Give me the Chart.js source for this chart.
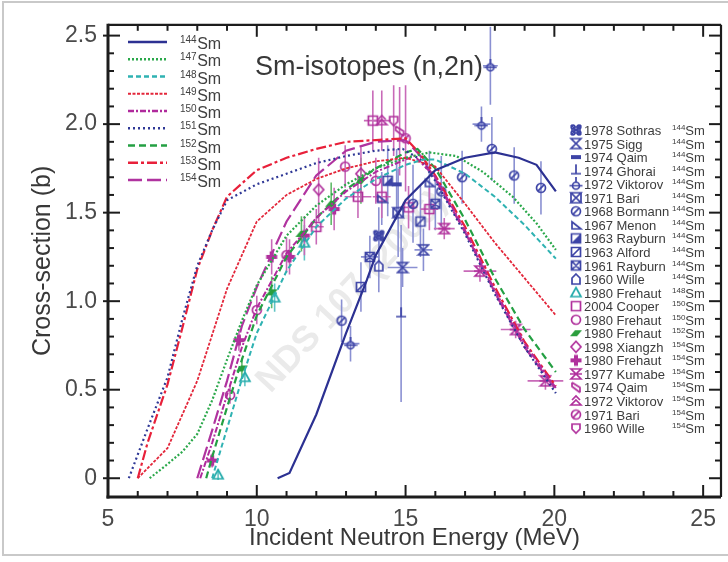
<!DOCTYPE html>
<html><head><meta charset="utf-8">
<script src="https://cdn.jsdelivr.net/npm/chart.js@4"></script>
<style>html,body{margin:0;padding:0;background:#fff}#wrap{width:728px;height:562px;position:relative}</style>
</head><body><div id="wrap"><canvas id="c" width="728" height="562"></canvas></div>
<script>
// ================= DATA =================
const xTickValues = [5, 10, 15, 20, 25];
const yTickValues = [0, 0.5, 1, 1.5, 2, 2.5];
const yTickLabels = ['0', '0.5', '1.0', '1.5', '2.0', '2.5'];
const chartTitle = 'Sm-isotopes (n,2n)';
const xTitle = 'Incident Neutron Energy (MeV)';
const yTitle = 'Cross-section (b)';
const watermarkText = 'NDS 107 (2006)';

// evaluated curves: energy (MeV) and cross-section (b)
const sm144E  = [10.7, 11.1, 12.0, 13.0, 13.7, 14.0, 15.0, 16.0, 17.0, 18.0, 18.8, 19.4, 20.05];
const sm144XS = [0.0, 0.03, 0.36, 0.82, 1.12, 1.26, 1.57, 1.74, 1.81, 1.84, 1.81, 1.77, 1.62];
const sm147E  = [6.4, 7.0, 7.5, 8.0, 8.5, 9.0, 9.5, 10.0, 11.0, 12.0, 13.0, 14.0, 15.0, 15.8, 16.7, 17.6, 18.6, 19.4, 20.05];
const sm147XS = [0.0, 0.08, 0.15, 0.25, 0.44, 0.67, 0.89, 1.09, 1.37, 1.54, 1.66, 1.75, 1.81, 1.84, 1.82, 1.73, 1.59, 1.44, 1.29];
const sm148E  = [8.5, 9.0, 9.5, 10.0, 11.0, 12.0, 13.0, 14.0, 15.0, 15.6, 16.0, 17.0, 18.0, 19.0, 20.05];
const sm148XS = [0.0, 0.28, 0.56, 0.82, 1.17, 1.42, 1.58, 1.69, 1.77, 1.8, 1.8, 1.72, 1.59, 1.43, 1.24];
const sm149E  = [6.0, 7.0, 8.0, 9.0, 10.0, 11.0, 12.0, 13.0, 14.0, 15.0, 16.0, 17.0, 18.0, 19.0, 20.05];
const sm149XS = [0.0, 0.17, 0.55, 1.07, 1.45, 1.6, 1.69, 1.75, 1.79, 1.81, 1.76, 1.55, 1.33, 1.13, 0.92];
const sm150E  = [8.1, 8.5, 9.0, 9.5, 10.0, 11.0, 12.0, 13.0, 14.0, 15.0, 15.3, 16.0, 17.0, 18.0, 19.0, 20.05];
const sm150XS = [0.0, 0.2, 0.47, 0.74, 0.96, 1.27, 1.47, 1.62, 1.73, 1.8, 1.82, 1.7, 1.4, 1.06, 0.76, 0.51];
const sm151E  = [5.7, 6.33, 7.0, 7.5, 8.0, 8.5, 9.0, 10.0, 11.0, 12.0, 13.0, 14.0, 14.9, 15.5, 16.0, 17.0, 18.0, 19.0, 20.05];
const sm151XS = [0.0, 0.28, 0.57, 0.9, 1.2, 1.4, 1.57, 1.66, 1.72, 1.78, 1.82, 1.85, 1.86, 1.8, 1.68, 1.38, 1.04, 0.74, 0.48];
const sm152E  = [8.3, 8.5, 9.0, 9.5, 10.0, 11.0, 12.0, 13.0, 14.0, 15.0, 15.4, 16.0, 17.0, 18.0, 19.0, 20.05];
const sm152XS = [0.0, 0.12, 0.4, 0.67, 0.92, 1.25, 1.47, 1.63, 1.75, 1.84, 1.86, 1.75, 1.46, 1.13, 0.84, 0.6];
const sm153E  = [6.0, 6.33, 7.0, 7.5, 8.0, 8.5, 9.0, 10.0, 11.0, 12.0, 13.0, 14.0, 15.0, 15.5, 16.0, 17.0, 18.0, 19.0, 20.05];
const sm153XS = [0.0, 0.2, 0.53, 0.85, 1.18, 1.4, 1.59, 1.74, 1.81, 1.86, 1.9, 1.91, 1.92, 1.83, 1.71, 1.42, 1.08, 0.77, 0.52];
const sm154E  = [8.0, 8.5, 9.0, 9.5, 10.0, 11.0, 12.0, 13.0, 14.0, 15.0, 15.5, 16.0, 17.0, 18.0, 19.0, 20.05];
const sm154XS = [0.0, 0.27, 0.55, 0.86, 1.08, 1.45, 1.71, 1.85, 1.9, 1.91, 1.82, 1.69, 1.39, 1.05, 0.74, 0.5];

// experiments: [energy, cross-section, d(cross-section), d(energy)]
const sothras1978_144 = [[14.1, 1.37, 0.16, 0]];
const sigg1975_144    = [[14.9, 1.19, 0.11, 0.5], [15.6, 1.29, 0.12, 0.3]];
const qaim1974_144    = [[14.7, 1.66, 0.2, 0]];
const ghorai1974_144  = [[14.85, 0.93, 0.5, 0]];
const viktorov1972_144 = [[13.15, 0.76, 0.1, 0.3], [17.55, 2.0, 0.1, 0.3], [17.85, 2.33, 0.22, 0.25]];
const bari1971_144    = [[14.75, 1.5, 0.25, 0]];
const bormann1968_144 = [[12.85, 0.89, 0.12, 0], [15.25, 1.55, 0.22, 0], [16.2, 1.62, 0.2, 0], [16.9, 1.7, 0.15, 0], [17.9, 1.86, 0.18, 0], [18.65, 1.71, 0.16, 0], [19.55, 1.64, 0.15, 0]];
const menon1967_144   = [[14.2, 1.58, 0.15, 0], [15.8, 1.67, 0.18, 0]];
const rayburn1963_144 = [[14.4, 1.68, 0.2, 0]];
const alford1963_144  = [[13.5, 1.08, 0.14, 0], [15.5, 1.45, 0.2, 0]];
const rayburn1961_144 = [[13.8, 1.25, 0.12, 0.3], [16.0, 1.55, 0.15, 0]];
const wille1960_144   = [[14.1, 1.2, 0.15, 0]];
const frehaut1980_148 = [[8.7, 0.02, 0.03, 0], [9.6, 0.57, 0.05, 0], [10.6, 1.02, 0.08, 0], [11.6, 1.33, 0.1, 0]];
const cooper2004_150  = [[12.0, 1.42, 0.1, 0.25], [13.4, 1.59, 0.12, 0.45], [14.2, 1.59, 0.12, 0.3], [15.1, 1.53, 0.12, 0.3], [15.8, 1.52, 0.12, 0.3], [13.9, 2.02, 0.17, 0.3]];
const frehaut1980_150 = [[9.1, 0.47, 0.05, 0], [10.0, 0.95, 0.08, 0], [11.0, 1.26, 0.1, 0], [12.97, 1.76, 0.12, 0], [14.0, 1.68, 0.13, 0]];
const frehaut1980_152 = [[9.5, 0.62, 0.06, 0], [10.5, 1.05, 0.09, 0], [11.5, 1.38, 0.1, 0], [12.5, 1.55, 0.12, 0], [13.5, 1.68, 0.13, 0]];
const xiangzh1998_154 = [[12.08, 1.63, 0.18, 0], [13.5, 1.72, 0.15, 0]];
const frehaut1980_154 = [[8.5, 0.1, 0.04, 0], [9.4, 0.78, 0.06, 0], [10.5, 1.25, 0.1, 0.15], [11.1, 1.25, 0.1, 0], [11.6, 1.37, 0.11, 0], [12.6, 1.52, 0.12, 0]];
const kumabe1977_154  = [[16.3, 1.41, 0.06, 0.35], [17.5, 1.17, 0.06, 0.55], [18.7, 0.84, 0.05, 0.5], [19.7, 0.55, 0.05, 0.6]];
const qaim1974_154    = [[14.8, 1.96, 0.25, 0]];
const viktorov1972_154 = [[14.2, 2.02, 0.17, 0.3]];
const bari1971_154    = [[15.0, 1.92, 0.3, 0]];
const wille1960_154   = [[14.6, 2.02, 0.2, 0]];

// ================= STYLES =================
const C144 = '#2c3192', C147 = '#2aa84a', C148 = '#2fb2b2', C149 = '#e3263a', C150 = '#b02a9c',
      C151 = '#2f3896', C152 = '#24a043', C153 = '#e8203a', C154 = '#b0339f';
const curveDefs = [
  ['144', sm144E, sm144XS, C144, [], 2.2],
  ['147', sm147E, sm147XS, C147, [2, 2], 2.2],
  ['148', sm148E, sm148XS, C148, [5, 3], 2],
  ['149', sm149E, sm149XS, C149, [3, 1.5], 1.8],
  ['150', sm150E, sm150XS, C150, [6, 2, 2, 2], 2],
  ['151', sm151E, sm151XS, C151, [2, 3], 2.2],
  ['152', sm152E, sm152XS, C152, [7, 4], 2.2],
  ['153', sm153E, sm153XS, C153, [10, 3, 3, 3], 2.2],
  ['154', sm154E, sm154XS, C154, [14, 5], 2.2]
];

const S144 = '#3d44a6', E144 = '#8a90d2';
const SMAG = '#b0309c', EMAG = '#c86ab8';
const expDefs = [
  ['1978 Sothras', '144', sothras1978_144, 'sothras', S144, E144],
  ['1975 Sigg', '144', sigg1975_144, 'hourglass', S144, E144],
  ['1974 Qaim', '144', qaim1974_144, 'bar', S144, E144],
  ['1974 Ghorai', '144', ghorai1974_144, 'tee', S144, E144],
  ['1972 Viktorov', '144', viktorov1972_144, 'circleBar', S144, E144],
  ['1971 Bari', '144', bari1971_144, 'xbox', S144, E144],
  ['1968 Bormann', '144', bormann1968_144, 'circleSlash', S144, E144],
  ['1967 Menon', '144', menon1967_144, 'rtri', S144, E144],
  ['1963 Rayburn', '144', rayburn1963_144, 'halfSquare', S144, E144],
  ['1963 Alford', '144', alford1963_144, 'squareDiag', S144, E144],
  ['1961 Rayburn', '144', rayburn1961_144, 'squareX', S144, E144],
  ['1960 Wille', '144', wille1960_144, 'house', S144, E144],
  ['1980 Frehaut', '148', frehaut1980_148, 'triangle', '#22aaaa', '#60c4c4'],
  ['2004 Cooper', '150', cooper2004_150, 'square', SMAG, EMAG],
  ['1980 Frehaut', '150', frehaut1980_150, 'circle', SMAG, EMAG],
  ['1980 Frehaut', '152', frehaut1980_152, 'para', '#2a9e3c', '#62ba6a'],
  ['1998 Xiangzh', '154', xiangzh1998_154, 'diamond', SMAG, EMAG],
  ['1980 Frehaut', '154', frehaut1980_154, 'plus', SMAG, EMAG],
  ['1977 Kumabe', '154', kumabe1977_154, 'bowtie', SMAG, EMAG],
  ['1974 Qaim', '154', qaim1974_154, 'slashes', SMAG, EMAG],
  ['1972 Viktorov', '154', viktorov1972_154, 'triHat', SMAG, EMAG],
  ['1971 Bari', '154', bari1971_154, 'circleSlash', SMAG, EMAG],
  ['1960 Wille', '154', wille1960_154, 'shield', SMAG, EMAG]
];

const FONT = '"Liberation Sans", Arial, sans-serif';

function makeSymbol(shape, color) {
  const S = 14, cv = document.createElement('canvas');
  cv.width = S; cv.height = S;
  const g = cv.getContext('2d');
  g.strokeStyle = color; g.fillStyle = color; g.lineWidth = 1.7;
  const c = S / 2, r = 5;
  g.beginPath();
  switch (shape) {
    case 'circle': g.arc(c, c, r - 0.5, 0, 2 * Math.PI); g.stroke(); break;
    case 'circleSlash': g.arc(c, c, r - 0.5, 0, 2 * Math.PI); g.moveTo(c - 3.3, c + 3.3); g.lineTo(c + 3.3, c - 3.3); g.stroke(); break;
    case 'circleBar': g.arc(c, c + 1.5, r - 1.5, 0, 2 * Math.PI); g.moveTo(0.5, c + 1.5); g.lineTo(S - 0.5, c + 1.5); g.moveTo(c, 0); g.lineTo(c, c - 2); g.stroke(); break;
    case 'square': g.rect(c - r + 0.5, c - r + 0.5, 2 * r - 1, 2 * r - 1); g.stroke(); break;
    case 'squareX': g.rect(c - r + 0.5, c - r + 0.5, 2 * r - 1, 2 * r - 1); g.moveTo(c - r + 1, c - r + 1); g.lineTo(c + r - 1, c + r - 1); g.moveTo(c + r - 1, c - r + 1); g.lineTo(c - r + 1, c + r - 1); g.stroke(); break;
    case 'squareDiag': g.rect(c - r + 0.5, c - r + 0.5, 2 * r - 1, 2 * r - 1); g.moveTo(c - r + 1, c + r - 1); g.lineTo(c + r - 1, c - r + 1); g.stroke(); break;
    case 'halfSquare': g.rect(c - r + 0.5, c - r + 0.5, 2 * r - 1, 2 * r - 1); g.stroke(); g.beginPath(); g.moveTo(c - r, c + r); g.lineTo(c + r, c - r); g.lineTo(c + r, c + r); g.closePath(); g.fill(); break;
    case 'triangle': g.moveTo(c, c - r); g.lineTo(c + r, c + r - 1); g.lineTo(c - r, c + r - 1); g.closePath(); g.stroke(); break;
    case 'rtri': g.moveTo(c - r + 1, c - r + 2); g.lineTo(c + r, c + r - 1); g.lineTo(c - r + 1, c + r - 1); g.closePath(); g.stroke(); break;
    case 'diamond': g.moveTo(c, c - r - 0.5); g.lineTo(c + r, c); g.lineTo(c, c + r + 0.5); g.lineTo(c - r, c); g.closePath(); g.stroke(); break;
    case 'plus': g.fillRect(c - 2, c - r - 0.5, 4, 2 * r + 1); g.fillRect(c - r - 0.5, c - 2, 2 * r + 1, 4); break;
    case 'bar': g.fillRect(c - r, c - 2, 2 * r, 4); break;
    case 'tee': g.moveTo(c, 0.5); g.lineTo(c, c + 3); g.moveTo(c - r, c + 3); g.lineTo(c + r, c + 3); g.stroke(); break;
    case 'hourglass': g.moveTo(c - r, c - r); g.lineTo(c + r, c - r); g.lineTo(c - r, c + r); g.lineTo(c + r, c + r); g.closePath(); g.stroke(); break;
    case 'bowtie': g.moveTo(c - r, c - r); g.lineTo(c + r, c - r); g.lineTo(c - r, c + r); g.lineTo(c + r, c + r); g.closePath(); g.moveTo(c - r - 1, c); g.lineTo(c + r + 1, c); g.stroke(); break;
    case 'sothras':
      g.moveTo(c - r, c - r); g.lineTo(c + r, c + r); g.moveTo(c + r, c - r); g.lineTo(c - r, c + r);
      g.moveTo(c - r, c); g.lineTo(c + r, c); g.stroke();
      g.beginPath(); g.arc(c - 3, c - 3, 1.8, 0, 2 * Math.PI); g.arc(c + 3, c - 3, 1.8, 0, 2 * Math.PI); g.stroke();
      g.beginPath(); g.arc(c - 3, c + 3, 1.8, 0, 2 * Math.PI); g.arc(c + 3, c + 3, 1.8, 0, 2 * Math.PI); g.stroke(); break;
    case 'xbox': g.moveTo(c - r, c - r); g.lineTo(c + r, c - r); g.lineTo(c - r, c + r); g.lineTo(c + r, c + r); g.closePath(); g.stroke();
      g.beginPath(); g.moveTo(c - r, c - r); g.lineTo(c - r, c + r); g.moveTo(c + r, c - r); g.lineTo(c + r, c + r); g.stroke(); break;
    case 'house': g.moveTo(c, c - r); g.lineTo(c + r - 1, c - 1); g.lineTo(c + r - 1, c + r); g.lineTo(c - r + 1, c + r); g.lineTo(c - r + 1, c - 1); g.closePath(); g.stroke(); break;
    case 'shield': g.moveTo(c - r + 1, c - r + 1); g.lineTo(c + r - 1, c - r + 1); g.lineTo(c + r - 1, c + 1); g.lineTo(c, c + r); g.lineTo(c - r + 1, c + 1); g.closePath(); g.stroke(); break;
    case 'para': g.moveTo(c - r + 4, c - 3); g.lineTo(c + r + 1, c - 3); g.lineTo(c + r - 4, c + 3); g.lineTo(c - r - 1, c + 3); g.closePath(); g.fill(); break;
    case 'slashes': g.moveTo(c - r + 1, c - r); g.lineTo(c - r + 1, c - 1); g.lineTo(c + r - 1, c + r); g.moveTo(c - r + 1, c - r); g.lineTo(c + r - 1, c); g.lineTo(c + r - 1, c + r); g.stroke(); break;
    case 'triHat': g.moveTo(c, c - 1); g.lineTo(c + r, c + r - 1); g.lineTo(c - r, c + r - 1); g.closePath(); g.moveTo(c - r + 1, c - 1); g.lineTo(c, c - r); g.lineTo(c + r - 1, c - 1); g.stroke(); break;
  }
  return cv;
}

// ================= DATASETS =================
const datasets = [];
curveDefs.forEach(([iso, E, XS, col, dash, w]) => {
  datasets.push({
    label: iso + 'Sm', isCurve: true, iso: iso,
    data: E.map((e, i) => ({ x: e, y: XS[i] })),
    showLine: true, borderColor: col, backgroundColor: col, borderWidth: w, borderDash: dash,
    pointRadius: 0, tension: 0, order: 0, fill: false
  });
});
expDefs.forEach(([lab, iso, arr, shape, col, ecol]) => {
  const img = makeSymbol(shape, col);
  datasets.push({
    label: lab + ' ' + iso + 'Sm', isExp: true, iso: iso, expLabel: lab, symbol: img, errColor: ecol,
    data: arr.map(p => ({ x: p[0], y: p[1], dy: p[2], dx: p[3] })),
    showLine: false, pointStyle: img, pointRadius: 6, borderColor: col, backgroundColor: col, order: 1
  });
});

// ================= PLUGINS =================
const watermarkPlugin = {
  id: 'watermark',
  beforeDatasetsDraw(chart) {
    const { ctx } = chart;
    ctx.save();
    ctx.translate(352, 292);
    ctx.rotate(-47 * Math.PI / 180);
    ctx.font = 'bold 36px ' + FONT;
    ctx.fillStyle = 'rgba(170,170,170,0.25)';
    ctx.textAlign = 'center'; ctx.textBaseline = 'middle';
    ctx.fillText(watermarkText, 0, 0);
    ctx.restore();
  }
};

const errorBarPlugin = {
  id: 'errorBars',
  beforeDatasetsDraw(chart) {
    const { ctx, chartArea: a, scales: { x, y } } = chart;
    ctx.save();
    ctx.beginPath(); ctx.rect(a.left, a.top, a.right - a.left, a.bottom - a.top); ctx.clip();
    ctx.lineWidth = 1.6;
    chart.data.datasets.forEach(ds => {
      if (!ds.isExp) return;
      ctx.strokeStyle = ds.errColor;
      ds.data.forEach(p => {
        const px = x.getPixelForValue(p.x), py = y.getPixelForValue(p.y);
        ctx.beginPath();
        if (p.dy) { ctx.moveTo(px, y.getPixelForValue(p.y - p.dy)); ctx.lineTo(px, y.getPixelForValue(p.y + p.dy)); }
        if (p.dx) { ctx.moveTo(x.getPixelForValue(p.x - p.dx), py); ctx.lineTo(x.getPixelForValue(p.x + p.dx), py); }
        ctx.stroke();
      });
    });
    ctx.restore();
  }
};

const framePlugin = {
  id: 'frame',
  afterDatasetsDraw(chart) {
    const { ctx, chartArea: a, scales: { x, y } } = chart;
    ctx.save();
    ctx.strokeStyle = '#1c1c1c';
    const line = (x1, y1, x2, y2) => { ctx.beginPath(); ctx.moveTo(x1, y1); ctx.lineTo(x2, y2); ctx.stroke(); };
    ctx.lineWidth = 2;
    for (let v = 5; v <= 25; v++) {
      const px = x.getPixelForValue(v), L = v % 5 === 0 ? 12 : 6;
      line(px, a.bottom, px, a.bottom - L);
      line(px, a.top, px, a.top + L);
    }
    for (let k = 0; k <= 25; k++) {
      const py = y.getPixelForValue(k / 10), L = k % 5 === 0 ? 12 : 6;
      line(a.left - (k % 5 === 0 ? 5 : 0), py, a.left + L, py);
      line(a.right, py, a.right - L, py);
    }
    ctx.lineWidth = 3;
    line(a.left, a.top - 1, a.left, a.bottom + 1.5);
    line(a.left - 1.5, a.bottom, a.right, a.bottom);
    ctx.lineWidth = 2.2;
    line(a.left, a.top, a.right, a.top);
    line(a.right, a.top, a.right, a.bottom);
    ctx.restore();
  }
};

const annotationsPlugin = {
  id: 'annotations',
  afterDraw(chart) {
    const { ctx } = chart;
    ctx.save();
    // outer light frame
    ctx.strokeStyle = '#c9c9c9'; ctx.lineWidth = 2;
    ctx.strokeRect(3, 2, 740, 553);
    // title
    ctx.fillStyle = '#383838';
    ctx.font = '27px ' + FONT; ctx.textAlign = 'center'; ctx.textBaseline = 'middle';
    ctx.fillText(chartTitle, 369, 68);
    // left legend (curves)
    ctx.textAlign = 'left'; ctx.textBaseline = 'alphabetic';
    const curves = chart.data.datasets.filter(d => d.isCurve);
    curves.forEach((ds, i) => {
      const ly = 42 + i * 17.25;
      ctx.save();
      ctx.strokeStyle = ds.borderColor; ctx.lineWidth = ds.borderWidth + 0.3; ctx.setLineDash(ds.borderDash || []);
      ctx.beginPath(); ctx.moveTo(128, ly); ctx.lineTo(167, ly); ctx.stroke();
      ctx.restore();
      ctx.fillStyle = '#404040';
      ctx.font = '10px ' + FONT;
      ctx.fillText(ds.iso, 180, ly + 1);
      const w = ctx.measureText(ds.iso).width;
      ctx.font = '16px ' + FONT;
      ctx.fillText('Sm', 180 + w + 0.5, ly + 7);
    });
    // right legend (experiments)
    const exps = chart.data.datasets.filter(d => d.isExp);
    exps.forEach((ds, i) => {
      const ly = 130 + i * 13.55;
      ctx.drawImage(ds.symbol, 576 - 7, ly - 7);
      ctx.fillStyle = '#3c3c3c';
      ctx.font = '13px ' + FONT;
      ctx.fillText(ds.expLabel, 584, ly + 5);
      ctx.font = '8px ' + FONT;
      ctx.fillText(ds.iso, 672, ly);
      const w = ctx.measureText(ds.iso).width;
      ctx.font = '13px ' + FONT;
      ctx.fillText('Sm', 672 + w, ly + 5);
    });
    ctx.restore();
  }
};

// ================= CHART =================
new Chart(document.getElementById('c'), {
  type: 'scatter',
  data: { datasets: datasets },
  options: {
    responsive: false, animation: false, devicePixelRatio: 1,
    layout: { padding: { left: 0, right: 1, top: 18, bottom: 0 } },
    plugins: { legend: { display: false }, tooltip: { enabled: false }, title: { display: false } },
    scales: {
      x: {
        type: 'linear', min: 5, max: 25.6,
        grid: { display: false, drawTicks: false }, border: { display: false },
        afterBuildTicks: s => { s.ticks = xTickValues.map(v => ({ value: v })); },
        afterFit: s => { s.height = 65; },
        ticks: { font: { family: FONT, size: 23 }, color: '#4a4a4a', padding: 9, maxRotation: 0, autoSkip: false, callback: v => String(v) },
        title: { display: true, text: xTitle, font: { family: FONT, size: 24 }, color: '#383838', padding: { top: 0, bottom: 9 } }
      },
      y: {
        type: 'linear', min: -0.106, max: 2.561,
        grid: { display: false, drawTicks: false }, border: { display: false },
        afterBuildTicks: s => { s.ticks = yTickValues.map(v => ({ value: v })); },
        afterFit: s => { s.width = 108; },
        ticks: { font: { family: FONT, size: 23 }, color: '#4a4a4a', padding: 11, autoSkip: false,
                 callback: v => yTickLabels[yTickValues.indexOf(v)] },
        title: { display: true, text: yTitle, font: { family: FONT, size: 25 }, color: '#383838', padding: { top: 28, bottom: 0 } }
      }
    }
  },
  plugins: [watermarkPlugin, errorBarPlugin, framePlugin, annotationsPlugin]
});
</script>
</body></html>
